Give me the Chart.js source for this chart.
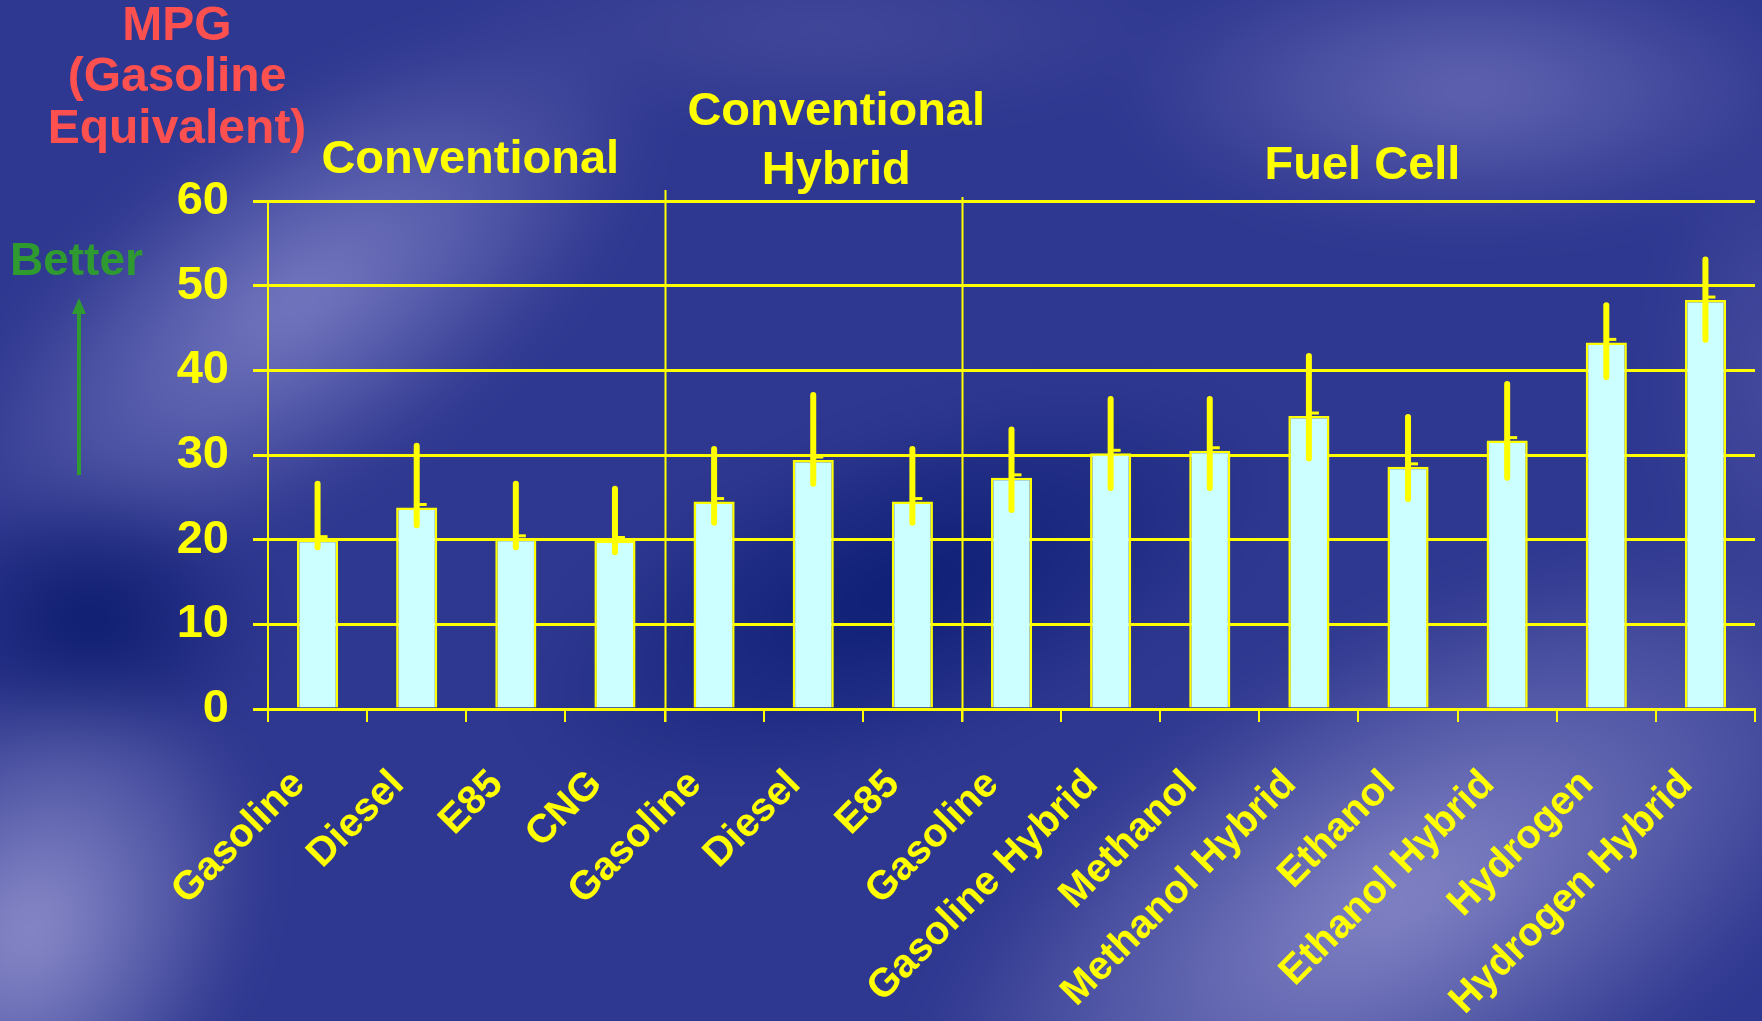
<!DOCTYPE html>
<html>
<head>
<meta charset="utf-8">
<script src="https://cdn.jsdelivr.net/npm/chart.js@4/dist/chart.umd.min.js"></script>
<style>
  html, body { margin: 0; padding: 0; width: 1762px; height: 1021px; overflow: hidden; background: #2f3890; }
  #bg { position: absolute; left: 0; top: 0; width: 1762px; height: 1021px; overflow: hidden; }
  #bg .inner { position: absolute; left: -80px; top: -80px; width: 1922px; height: 1181px; filter: blur(26px); background: #2f3890; }
  .blob { position: absolute; border-radius: 50%; }
  #wrap { position: absolute; left: 0; top: 0; width: 1762px; height: 1021px; }
</style>
</head>
<body>
<div id="bg"><div class="inner" id="bgInner"></div></div>
<div id="wrap"><canvas id="c" width="1762" height="1021"></canvas></div>
<script>
// Vehicle fuel economy by powertrain, in MPG gasoline equivalent
const categories = [
  'Gasoline', 'Diesel', 'E85', 'CNG',
  'Gasoline', 'Diesel', 'E85',
  'Gasoline', 'Gasoline Hybrid', 'Methanol', 'Methanol Hybrid',
  'Ethanol', 'Ethanol Hybrid', 'Hydrogen', 'Hydrogen Hybrid'
];
const mpg      = [20.0, 23.8, 20.1, 19.9, 24.5, 29.4, 24.5, 27.3, 30.2, 30.5, 34.6, 28.6, 31.7, 43.3, 48.3];
const rangeLow = [19.1, 21.7, 19.1, 18.5, 22.0, 26.6, 22.0, 23.5, 26.1, 26.1, 29.6, 24.8, 27.3, 39.2, 43.6];
const rangeHigh= [26.6, 31.1, 26.6, 26.0, 30.7, 37.1, 30.7, 33.0, 36.6, 36.6, 41.7, 34.5, 38.4, 47.7, 53.1];

const groupNames  = [['Conventional'], ['Conventional', 'Hybrid'], ['Fuel Cell']];
const groupStart  = [0, 4, 7];
const groupEnd    = [3, 6, 14];
const yTickValues = [0, 10, 20, 30, 40, 50, 60];
const axisTitle   = ['MPG', '(Gasoline', 'Equivalent)'];
const betterLabel = 'Better';

const YELLOW = '#ffff00';
const FONT = '"Liberation Sans", Arial, sans-serif';

// soft slide backdrop: blurred light and dark patches over a mid blue
const patches = [
  // cx, cy, w, h, rotation (deg), colour
  [300, 300, 820, 360, -35, 'rgba(126,128,198,0.92)'],
  [1470, 90, 700, 280, 0, 'rgba(108,110,184,0.85)'],
  [820, 30, 760, 170, 0, 'rgba(82,86,162,0.6)'],
  [900, 590, 820, 340, -20, 'rgba(8,26,112,0.9)'],
  [90, 620, 360, 300, 0, 'rgba(8,24,105,0.9)'],
  [30, 930, 420, 560, 30, 'rgba(146,146,206,0.95)'],
  [1400, 900, 1100, 520, -30, 'rgba(142,142,204,0.9)'],
  [1770, 380, 220, 520, 0, 'rgba(86,90,168,0.6)']
];
const bgInner = document.getElementById('bgInner');
patches.forEach(([cx, cy, w, h, rot, col]) => {
  const d = document.createElement('div');
  d.className = 'blob';
  d.style.left = (cx + 80 - w / 2) + 'px';
  d.style.top = (cy + 80 - h / 2) + 'px';
  d.style.width = w + 'px';
  d.style.height = h + 'px';
  d.style.transform = 'rotate(' + rot + 'deg)';
  d.style.background = 'radial-gradient(closest-side, ' + col + ', ' + col.replace(/[\d.]+\)$/, '0)') + ')';
  bgInner.appendChild(d);
});

// range bars, group dividers, group headers and side annotations
const decor = {
  id: 'decor',
  afterDatasetsDraw(chart) {
    const ctx = chart.ctx;
    const ys = chart.scales.y;
    const meta = chart.getDatasetMeta(0);
    ctx.save();
    ctx.strokeStyle = YELLOW;
    meta.data.forEach((bar, i) => {
      const x = bar.x;
      ctx.lineCap = 'round';
      ctx.lineWidth = 6;
      ctx.beginPath();
      ctx.moveTo(x, ys.getPixelForValue(rangeLow[i]));
      ctx.lineTo(x, ys.getPixelForValue(rangeHigh[i]));
      ctx.stroke();
      ctx.lineCap = 'butt';
      ctx.lineWidth = 3;
      ctx.beginPath();
      const ym = ys.getPixelForValue(mpg[i]) - 3;
      ctx.moveTo(x, ym);
      ctx.lineTo(x + 10, ym);
      ctx.stroke();
    });
    ctx.restore();
  },
  afterDraw(chart) {
    const ctx = chart.ctx;
    const xs = chart.scales.x;
    const area = chart.chartArea;
    const edge = (i) => (xs.getPixelForValue(i - 1) + xs.getPixelForValue(i)) / 2;
    ctx.save();
    // dividers between groups
    ctx.strokeStyle = YELLOW;
    ctx.lineWidth = 2;
    [[groupStart[1], 190], [groupStart[2], 197]].forEach(([i, top]) => {
      const x = Math.round(edge(i)) + 0.5;
      ctx.beginPath();
      ctx.moveTo(x, top);
      ctx.lineTo(x, area.bottom + 13);
      ctx.stroke();
    });
    // group headers
    ctx.fillStyle = YELLOW;
    ctx.font = 'bold 47px ' + FONT;
    ctx.textAlign = 'center';
    ctx.textBaseline = 'middle';
    const headerY = [[160], [112, 171], [166]];
    const headerDx = [4, 23, 4];
    groupNames.forEach((lines, g) => {
      const left = g === 0 ? area.left : edge(groupStart[g]);
      const right = g === groupNames.length - 1 ? area.right : edge(groupEnd[g] + 1);
      const cx = (left + right) / 2 + headerDx[g];
      lines.forEach((t, k) => ctx.fillText(t, cx, headerY[g][k]));
    });
    // axis title
    ctx.fillStyle = '#ff5050';
    ctx.font = 'bold 48px ' + FONT;
    [27, 78, 130].forEach((y, k) => ctx.fillText(axisTitle[k], 177, y));
    // "Better" with upward arrow
    ctx.fillStyle = '#2e9a30';
    ctx.font = 'bold 46px ' + FONT;
    ctx.textAlign = 'left';
    ctx.fillText(betterLabel, 10, 262);
    ctx.strokeStyle = '#2e9a30';
    ctx.lineWidth = 4;
    ctx.beginPath();
    ctx.moveTo(79, 475);
    ctx.lineTo(79, 312);
    ctx.stroke();
    ctx.beginPath();
    ctx.moveTo(79, 298);
    ctx.lineTo(72, 314);
    ctx.lineTo(86, 314);
    ctx.closePath();
    ctx.fill();
    ctx.restore();
  }
};

new Chart(document.getElementById('c'), {
  type: 'bar',
  data: {
    labels: categories,
    datasets: [{
      data: mpg,
      backgroundColor: '#ccffff',
      borderColor: YELLOW,
      borderWidth: 2.5,
      categoryPercentage: 1,
      barPercentage: 0.415
    }]
  },
  options: {
    responsive: false,
    devicePixelRatio: 1,
    animation: false,
    layout: { padding: { top: 201, right: 7, left: 0, bottom: 0 } },
    plugins: { legend: { display: false }, tooltip: { enabled: false } },
    scales: {
      x: {
        offset: true,
        grid: { offset: true, drawOnChartArea: false, color: YELLOW, lineWidth: 2, tickLength: 13, tickColor: YELLOW },
        border: { color: YELLOW, width: 3 },
        ticks: {
          color: YELLOW, autoSkip: false, minRotation: 45, maxRotation: 45, padding: 39, labelOffset: -19,
          font: { family: FONT, size: 40, weight: 'bold' }
        },
        afterFit: (s) => { s.height = 312; s.paddingLeft = 0; s.paddingRight = 0; }
      },
      y: {
        min: 0, max: 60,
        afterBuildTicks: (s) => { s.ticks = yTickValues.map(v => ({ value: v })); },
        grid: { color: YELLOW, lineWidth: 3, tickLength: 15, tickColor: YELLOW },
        border: { color: YELLOW, width: 2 },
        ticks: {
          color: YELLOW, padding: 24,
          font: { family: FONT, size: 47, weight: 'bold' }
        },
        afterFit: (s) => { s.width = 268; }
      }
    }
  },
  plugins: [decor]
});
</script>
</body>
</html>
